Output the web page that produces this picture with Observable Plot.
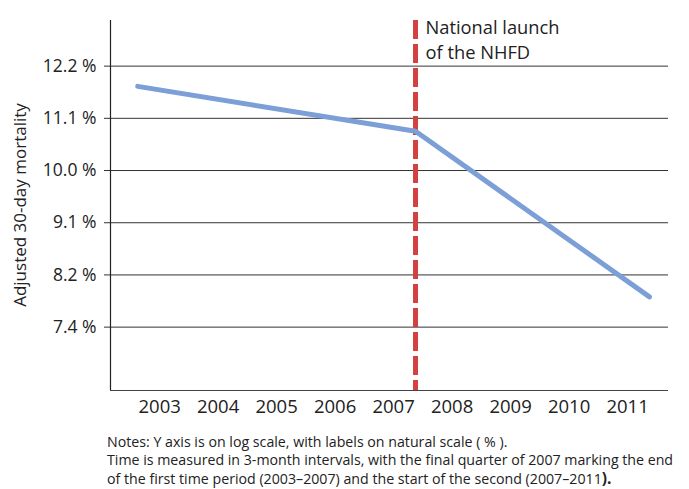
<!DOCTYPE html>
<html>
<head>
<meta charset="utf-8">
<script src="https://cdn.jsdelivr.net/npm/d3@7"></script>
<script src="https://cdn.jsdelivr.net/npm/@observablehq/plot@0.6"></script>
<style>
  body { margin: 0; background: #fff; font-family: "Open Sans", Lato, sans-serif; }
  #chart svg { display: block; }
  .notes { position: absolute; left: 107px; top: 433px; font-size: 14.2px; line-height: 18px; color: #222; white-space: nowrap; }
  .big { font-size: 15.5px; font-weight: bold; }
</style>
</head>
<body>
<div id="chart"></div>
<div class="notes">
  <div>Notes: Y axis is on log scale, with labels on natural scale ( % ).</div>
  <div>Time is measured in 3-month intervals, with the final quarter of 2007 marking the end</div>
  <div>of the first time period (2003–2007) and the start of the second (2007–2011<span class="big">).</span></div>
</div>
<script>
// Segmented trend (decimal year, adjusted 30-day mortality %)
const time = [2003.125, 2007.875, 2011.875];
const mortality = [11.75, 10.78, 7.85];

// Axis ticks (log-spaced positions, natural-scale labels)
const yTickValues = [7.408, 8.187, 9.048, 10.0, 11.052, 12.214];
const yTickLabels = ["7.4 %", "8.2 %", "9.1 %", "10.0 %", "11.1 %", "12.2 %"];
const years = [2003, 2004, 2005, 2006, 2007, 2008, 2009, 2010, 2011];

const launchTime = 2007.875;
const launchLabel = "National launch\nof the NHFD";
const yTitle = "Adjusted 30-day mortality";

const xDomain = [2002.66, 2012.2];
const yDomain = [6.561, 13.33];

const data = time.map((t, i) => ({t, v: mortality[i]}));
const yTicks = yTickValues.map((v, i) => ({v, label: yTickLabels[i]}));
const xTicks = years.map(y => ({t: y + 0.5, label: String(y)}));
const FONT = "'Open Sans', Lato, sans-serif";
const pxPerYear = 558 / (xDomain[1] - xDomain[0]);

const chart = Plot.plot({
  width: 689,
  height: 430,
  marginTop: 20,
  marginBottom: 40,
  marginLeft: 110,
  marginRight: 21,
  style: {fontFamily: FONT, fontSize: "17px", color: "#222", background: "#fff"},
  x: {domain: xDomain, axis: null},
  y: {type: "log", domain: yDomain, axis: null},
  marks: [
    Plot.gridY(yTickValues, {stroke: "#333", strokeOpacity: 1, strokeWidth: 1}),
    Plot.ruleY(yTicks, {y: "v", x1: () => xDomain[0] - 6 / pxPerYear, x2: () => xDomain[0], stroke: "#333", strokeWidth: 1}),
    Plot.text(yTicks, {y: "v", text: "label", frameAnchor: "left", textAnchor: "end", dx: -14, fontSize: 17.5, fill: "#222"}),
    Plot.text(xTicks, {x: "t", text: "label", frameAnchor: "bottom", lineAnchor: "top", dy: 9, fontSize: 18.5, fill: "#222"}),
    Plot.ruleX([xDomain[0]], {stroke: "#222", strokeWidth: 1.2}),
    Plot.ruleY([yDomain[0]], {stroke: "#444", strokeWidth: 1.2}),
    Plot.ruleX([launchTime], {stroke: "#d2403f", strokeWidth: 5, strokeDasharray: "19,5"}),
    Plot.line(data, {x: "t", y: "v", stroke: "#7b9fd6", strokeWidth: 5, strokeLinecap: "round", strokeLinejoin: "round"}),
    Plot.text([launchLabel], {x: launchTime, frameAnchor: "top", textAnchor: "start", lineAnchor: "top", dx: 10, dy: -4, fontSize: 18.3, lineHeight: 1.36, fill: "#222"})
  ]
});

// Y axis title
const svg = d3.select(chart);
svg.append("text")
  .attr("transform", "translate(26,205) rotate(-90)")
  .attr("text-anchor", "middle")
  .attr("font-size", 17)
  .attr("fill", "#222")
  .text(yTitle);

document.getElementById("chart").appendChild(chart);
</script>
</body>
</html>
